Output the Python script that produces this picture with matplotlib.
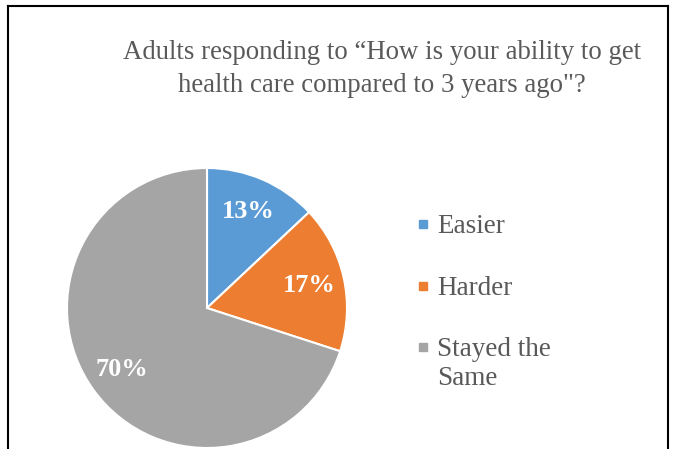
import matplotlib
matplotlib.use("Agg")
import matplotlib.pyplot as plt
from matplotlib.lines import Line2D

# chart data
labels = ["Easier", "Harder", "Stayed the\nSame"]
shares = [13, 17, 70]
colors = ["#5B9BD5", "#ED7D31", "#A5A5A5"]
title = "Adults responding to \u201cHow is your ability to get\nhealth care compared to 3 years ago\"?"

W, H = 673, 449
plt.rcParams["font.family"] = ["Liberation Serif", "DejaVu Serif"]

fig = plt.figure(figsize=(W / 100, H / 100), dpi=100)
ax = fig.add_axes([0, 0, 1, 1])

wedges, _, autotexts = ax.pie(
    shares,
    colors=colors,
    startangle=90,
    counterclock=False,
    center=(207, H - 308),
    radius=140,
    autopct="%d%%",
    pctdistance=0.75,
    wedgeprops=dict(edgecolor="white", linewidth=1.5),
    frame=True,
)
for t in autotexts:
    t.set_color("white")
    t.set_fontweight("bold")
    t.set_fontsize(19)

ax.set_xlim(0, W)
ax.set_ylim(0, H)
ax.set_aspect("equal")
ax.axis("off")

fig.text(382 / W, 1 - 69 / H, title, ha="center", va="center",
         fontsize=19.3, color="#595959", linespacing=1.4)

# legend, marker lined up with the first text line of each entry
row_y = [224, 286, 347]
for lab, c, y in zip(labels, colors, row_y):
    ax.plot([423], [H - y], marker="s", markersize=6, color=c, linestyle="none")
    ax.text(437, H - y + 10, lab, ha="left", va="top", fontsize=19.5,
            color="#595959", linespacing=1.2)

# outer chart border (top, left, right)
for xs, ys in [((8, 8), (0, H - 6)), ((8, 668), (H - 6, H - 6)), ((668, 668), (0, H - 6))]:
    fig.add_artist(Line2D([x / W for x in xs], [y / H for y in ys],
                          color="black", linewidth=1.5, transform=fig.transFigure))

fig.savefig("out.png", dpi=100)
